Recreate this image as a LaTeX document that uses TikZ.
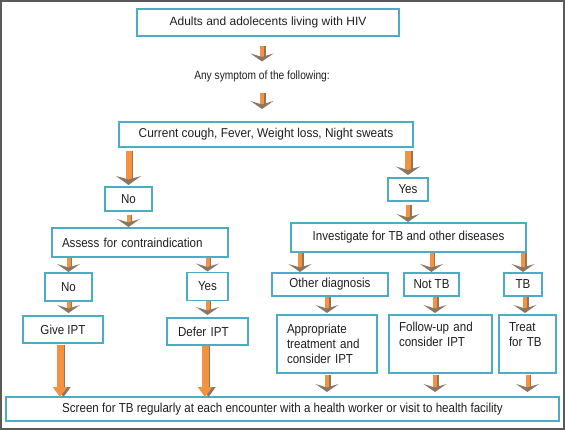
\documentclass[tikz,border=0pt]{standalone}
\usepackage{fontspec}
\setmainfont{Liberation Sans}
\newfontfamily\bodyfont[FakeStretch=0.89]{Liberation Sans}
\newfontfamily\symfont[FakeStretch=0.85]{Liberation Sans}
\newfontfamily\curfont[FakeStretch=0.93]{Liberation Sans}
\usetikzlibrary{arrows.meta,calc}
\definecolor{arrorange}{RGB}{245,146,64}
\definecolor{arrbrown}{RGB}{140,118,98}
\definecolor{boxblue}{RGB}{75,172,198}
\definecolor{txt}{RGB}{30,30,30}
\definecolor{framegray}{RGB}{90,90,90}
\newcommand{\flowarrow}[5]{%
  \draw[#1 shadow=#5, shorten <=#4] (#2) -- (#3);
  \draw[#1, shorten <=#4, shorten >=#5] (#2) -- (#3);}
\tikzset{
  box/.style={draw=boxblue, line width=1.6pt, inner sep=0pt, outer sep=0pt,
    text=txt, font=\bodyfont\fontsize{13}{15}\selectfont},
  arrsmall/.style={draw=arrorange, line width=4pt,
    -{Stealth[width=23pt,length=8pt,inset=3.5pt,color=arrbrown]}},
  arrsmall shadow/.style={draw=arrbrown, line width=1.5pt,
    transform canvas={xshift=3pt}, shorten >={#1+4pt}},
  arrmed/.style={draw=arrorange, line width=6pt,
    -{Stealth[width=24pt,length=8.5pt,inset=3.5pt,color=arrbrown]}},
  arrmed shadow/.style={draw=arrbrown, line width=1.8pt,
    transform canvas={xshift=4pt}, shorten >={#1+4.5pt}},
  arrbig/.style={draw=arrorange, line width=6pt,
    -{Stealth[width=25pt,length=9pt,inset=3.5pt,color=arrbrown]}},
  arrbig shadow/.style={draw=arrbrown, line width=1.8pt,
    transform canvas={xshift=4pt}, shorten >={#1+4.5pt}},
  arrlong/.style={draw=arrorange, line width=7pt,
    -{Triangle[width=14pt,length=10pt,color=arrorange]}},
  arrlong shadow/.style={draw=arrbrown, line width=2pt,
    transform canvas={xshift=3.5pt}, shorten >=#1,
    -{Triangle[width=14pt,length=10pt,color=arrbrown]}},
}
\begin{document}
\begin{tikzpicture}[x=1pt,y=-1pt]
\useasboundingbox (0,0) rectangle (565,430);
\draw[framegray, line width=2pt] (1,1) rectangle (564,429);

% nodes
\node[box, minimum width=262pt, minimum height=27pt, font=\fontsize{12}{14}\selectfont] (b1) at (268,22.5) {Adults and adolecents living with HIV};
\node[text=txt, inner sep=0pt, outer sep=0pt, text height=8.5pt, text depth=2.5pt, font=\symfont\fontsize{12}{14}\selectfont] (sym) at (262,77) {Any symptom of the following:};
\node[box, minimum width=294pt, minimum height=25pt, font=\curfont\fontsize{12.8}{15}\selectfont] (b2) at (266,134.5) {Current cough, Fever, Weight loss, Night sweats};
\node[box, minimum width=47pt, minimum height=24pt] (no1) at (128.5,199) {No};
\node[box, minimum width=40pt, minimum height=23pt] (yes1) at (408,189.5) {Yes};
\node[box, minimum width=176pt, minimum height=29pt, text width=156pt, align=left] (ass) at (140,242.5) {Assess for contraindication};
\node[box, minimum width=235pt, minimum height=29pt] (inv) at (408.5,237.5) {Investigate for TB and other diseases};
\node[box, minimum width=47pt, minimum height=28pt] (no2) at (68.5,287) {No};
\node[box, minimum width=41pt, minimum height=28pt] (yes2) at (207.5,286.5) {Yes};
\node[box, minimum width=116pt, minimum height=23pt] (oth) at (330,284.5) {Other diagnosis};
\node[box, minimum width=55pt, minimum height=23pt] (nottb) at (431.5,284.5) {Not TB};
\node[box, minimum width=38pt, minimum height=23pt] (tb) at (523,284.5) {TB};
\node[box, minimum width=80pt, minimum height=27pt] (give) at (63,329.5) {Give IPT};
\node[box, minimum width=81pt, minimum height=27pt, text width=59pt, align=left] (defer) at (207.5,331.5) {Defer IPT};
\node[box, minimum width=100pt, minimum height=58pt, text width=80pt, align=left] (appr) at (327,344) {Appropriate\\treatment and\\consider IPT};
\node[box, minimum width=103pt, minimum height=58pt, text width=83pt, align=left] (follow) at (440.5,344) {Follow-up and\\consider IPT\\\strut};
\node[box, minimum width=57pt, minimum height=58pt, text width=37pt, align=left] (treat) at (527.5,344) {Treat\\for TB\\\strut};
\node[box, minimum width=553pt, minimum height=24pt] (screen) at (282.5,409) {Screen for TB regularly at each encounter with a health worker or visit to health facility};

% helper coordinates for offset connectors
\coordinate (a9s) at ($(inv.south -| oth.north)+(-30,0)$);
\coordinate (n1) at ($(nottb.south)+(3.5,0)$);
\coordinate (t1) at ($(tb.south)+(2,0)$);
\coordinate (g1) at ($(give.south)+(-3,0)$);
\coordinate (d1) at ($(defer.south)+(-2.5,0)$);

% connectors
\flowarrow{arrsmall}{b1.south -| sym}{sym.north}{10pt}{10pt}
\flowarrow{arrsmall}{sym.south}{b2.north -| sym}{11pt}{13pt}
\flowarrow{arrbig}{b2.south -| no1}{no1.north}{4pt}{2pt}
\flowarrow{arrmed}{b2.south -| yes1}{yes1.north}{4pt}{3pt}
\flowarrow{arrsmall}{no1.south}{ass.north -| no1}{4pt}{1pt}
\flowarrow{arrsmall}{yes1.south}{inv.north -| yes1}{4pt}{1pt}
\flowarrow{arrsmall}{ass.south -| no2}{no2.north}{1pt}{1pt}
\flowarrow{arrsmall}{ass.south -| yes2}{yes2.north}{1pt}{1pt}
\flowarrow{arrsmall}{a9s}{oth.north -| a9s}{1pt}{1pt}
\flowarrow{arrsmall}{inv.south -| nottb}{nottb.north}{1pt}{1pt}
\flowarrow{arrsmall}{inv.south -| tb}{tb.north}{1pt}{1pt}
\flowarrow{arrsmall}{no2.south}{give.north -| no2}{1pt}{3pt}
\flowarrow{arrsmall}{yes2.south}{defer.north -| yes2}{1pt}{3pt}
\flowarrow{arrsmall}{oth.south -| appr}{appr.north}{1pt}{2pt}
\flowarrow{arrsmall}{n1}{follow.north -| n1}{1pt}{2pt}
\flowarrow{arrsmall}{t1}{treat.north -| t1}{1pt}{2pt}
\flowarrow{arrlong}{g1}{screen.north -| g1}{2pt}{0pt}
\flowarrow{arrlong}{d1}{screen.north -| d1}{1pt}{0pt}
\flowarrow{arrsmall}{appr.south}{screen.north -| appr}{2pt}{5pt}
\flowarrow{arrsmall}{follow.south -| n1}{screen.north -| n1}{2pt}{5pt}
\flowarrow{arrsmall}{treat.south}{screen.north -| treat}{2pt}{5pt}
\end{tikzpicture}
\end{document}
